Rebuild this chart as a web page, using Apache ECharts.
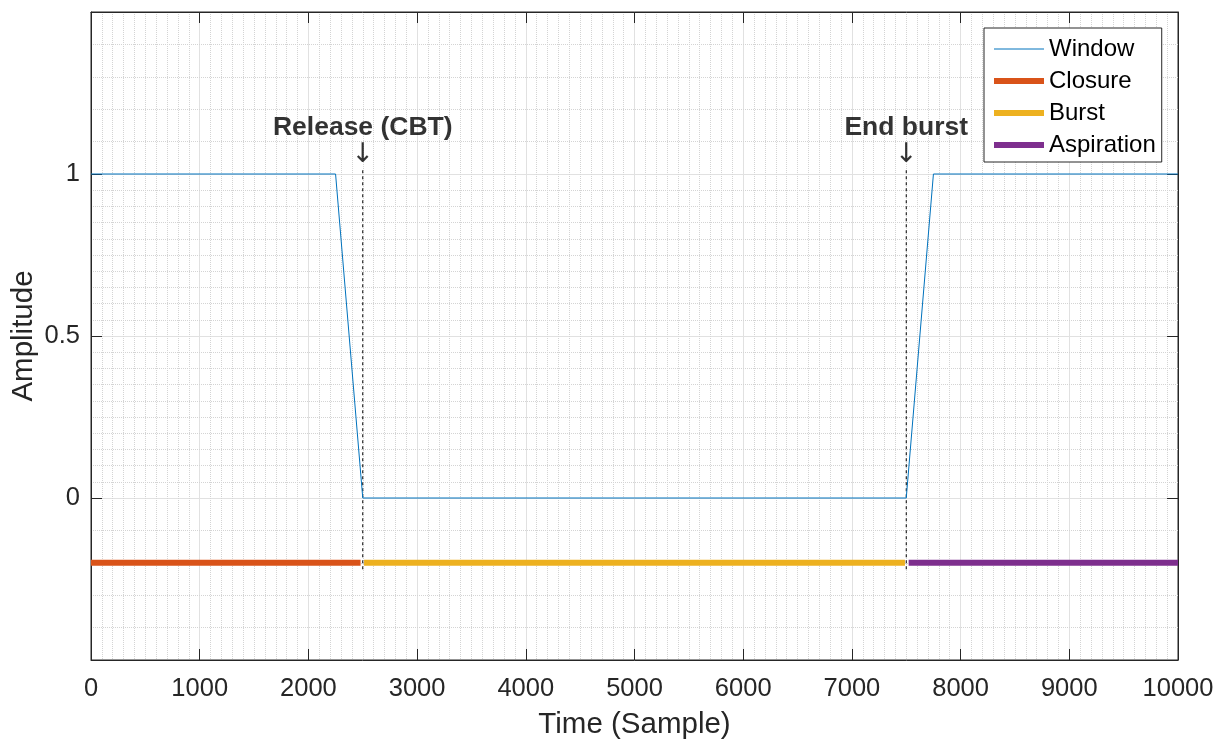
<!DOCTYPE html>
<html>
<head>
<meta charset="utf-8">
<script src="https://cdn.jsdelivr.net/npm/echarts@6/dist/echarts.min.js"></script>
<style>
html,body{margin:0;padding:0;background:#fff;}
#chart{width:1226px;height:739px;}
</style>
</head>
<body>
<div id="chart"></div>
<script>
// ---- data ----
var windowX = [0, 2250, 2500, 7500, 7750, 10000];
var windowY = [1, 1, 0, 0, 1, 1];
var segmentLevel = -0.2;
var closureSpan = [0, 2480];
var burstSpan = [2512, 7488];
var aspirationSpan = [7522, 10000];
var markerX = [2500, 7500];
var markerLabels = ['Release (CBT)', 'End burst'];
var markerLineY = [-0.22, 1.02];
var markerTextY = 1.142;
var markerArrowY = 1.059;
var yTickLabels = [0, 0.5, 1];
var yMinorGrid = [-0.4, -0.3, -0.2, -0.1,
  0.05, 0.1, 0.15, 0.2, 0.25, 0.3, 0.35, 0.4, 0.45,
  0.55, 0.6, 0.65, 0.7, 0.75, 0.8, 0.85, 0.9, 0.95,
  1.1, 1.2, 1.3, 1.4];

var FONT = '"Liberation Sans", Arial, sans-serif';
var AX = '#262626';

function seg(span){ return [[span[0], segmentLevel],[span[1], segmentLevel]]; }

var series = [
  {
    name: 'minorGrid', type: 'line', data: [], z: 1, silent: true,
    markLine: {
      silent: true, z: 0, symbol: ['none','none'], label: {show:false},
      lineStyle: {color:'#d4d4d4', type:'dotted', width:1},
      data: yMinorGrid.map(function(v){ return {yAxis: v}; }),
      animation: false
    }
  }
];
markerX.forEach(function(x, i){
  series.push({
    name: 'marker' + i, type: 'line', z: 3, showSymbol: false, symbol: 'none',
    data: [[x, markerLineY[0]], [x, markerLineY[1]]],
    lineStyle: {color: '#000', width: 1, type: [3, 3]}
  });
});
series.push(
  { name: 'Window', type: 'line', z: 5, symbol: 'none',
    data: windowX.map(function(x, i){ return [x, windowY[i]]; }),
    lineStyle: {color: '#0072BD', width: 1}, itemStyle: {color: '#0072BD'} },
  { name: 'Closure', type: 'line', z: 4, symbol: 'none', data: seg(closureSpan),
    lineStyle: {color: '#D95319', width: 6}, itemStyle: {color: '#D95319'} },
  { name: 'Burst', type: 'line', z: 4, symbol: 'none', data: seg(burstSpan),
    lineStyle: {color: '#EDB120', width: 6}, itemStyle: {color: '#EDB120'} },
  { name: 'Aspiration', type: 'line', z: 4, symbol: 'none', data: seg(aspirationSpan),
    lineStyle: {color: '#7E2F8E', width: 6}, itemStyle: {color: '#7E2F8E'} },
  { name: 'annotText', type: 'scatter', z: 6, symbolSize: 1, silent: true,
    itemStyle: {color: 'rgba(0,0,0,0)'},
    data: markerX.map(function(x, i){
      return {value: [x, markerTextY], label: {show: true, formatter: markerLabels[i]}};
    }),
    label: {show: true, position: 'inside', align: 'center', verticalAlign: 'middle',
      fontFamily: FONT, fontWeight: 'bold', fontSize: 26.5, color: '#000',
      textBorderWidth: 0, textBorderColor: 'transparent'} },
  { name: 'annotArrow', type: 'scatter', z: 6, symbolSize: 1, silent: true,
    itemStyle: {color: 'rgba(0,0,0,0)'},
    data: markerX.map(function(x){ return [x, markerArrowY]; }),
    label: {show: true, position: 'inside', formatter: '\u2193', align: 'center', verticalAlign: 'middle',
      fontFamily: '"DejaVu Sans", sans-serif', fontSize: 27, color: '#000',
      textBorderWidth: 0, textBorderColor: 'transparent'} }
);

var legendNames = ['Window', 'Closure', 'Burst', 'Aspiration'];
var legendWidths = [1, 6, 6, 6];

var chart = echarts.init(document.getElementById('chart'), null, {renderer: 'canvas'});
chart.setOption({
  animation: false,
  backgroundColor: '#fff',
  grid: {left: 91, right: 48, top: 12, bottom: 79, show: true, borderColor: AX, borderWidth: 1,
    containLabel: false, outerBoundsMode: 'none'},
  legend: {
    data: legendNames.map(function(n, i){ return {name: n, lineStyle: {width: legendWidths[i]}}; }),
    orient: 'vertical', left: 984, top: 28,
    padding: [9, 6, 5, 7], itemGap: 8, itemWidth: 50, itemHeight: 14,
    backgroundColor: '#fff', borderColor: AX, borderWidth: 1, borderRadius: 0,
    itemStyle: {color: 'rgba(0,0,0,0)', borderColor: 'rgba(0,0,0,0)', borderWidth: 0, opacity: 0},
    textStyle: {fontFamily: FONT, fontSize: 24, color: '#000'},
    selectedMode: false
  },
  xAxis: [
    { type: 'value', min: 0, max: 10000, interval: 1000, position: 'bottom',
      name: 'Time (Sample)', nameLocation: 'middle', nameGap: 50,
      nameTextStyle: {fontFamily: FONT, fontSize: 29.5, color: AX},
      axisLine: {show: true, onZero: false, lineStyle: {color: AX, width: 1}},
      axisTick: {show: true, inside: true, length: 11, lineStyle: {color: AX}},
      axisLabel: {fontFamily: FONT, fontSize: 25.5, color: AX, margin: 16,
        formatter: function(v){ return String(v); }},
      splitLine: {show: true, lineStyle: {color: '#e1e1e1', width: 1}},
      minorTick: {show: false, splitNumber: 10},
      minorSplitLine: {show: true, lineStyle: {color: '#d4d4d4', type: 'dotted', width: 1}} },
    { type: 'value', min: 0, max: 10000, interval: 1000, position: 'top',
      axisLine: {show: true, onZero: false, lineStyle: {color: AX, width: 1}},
      axisTick: {show: true, inside: true, length: 11, lineStyle: {color: AX}},
      axisLabel: {show: false}, splitLine: {show: false} }
  ],
  yAxis: [
    { type: 'value', min: -0.5, max: 1.5, interval: 0.5, position: 'left',
      name: 'Amplitude', nameLocation: 'middle', nameGap: 52, nameMoveOverlap: false,
      nameTextStyle: {fontFamily: FONT, fontSize: 29.5, color: AX},
      axisLine: {show: true, onZero: false, lineStyle: {color: AX, width: 1}},
      axisTick: {show: true, inside: true, length: 11, lineStyle: {color: AX}},
      axisLabel: {fontFamily: FONT, fontSize: 25.5, color: AX, margin: 11,
        formatter: function(v){ return yTickLabels.some(function(t){ return Math.abs(t - v) < 1e-9; }) ? String(v) : ''; }},
      splitLine: {show: true, lineStyle: {color: '#e1e1e1', width: 1}} },
    { type: 'value', min: -0.5, max: 1.5, interval: 0.5, position: 'right',
      axisLine: {show: true, onZero: false, lineStyle: {color: AX, width: 1}},
      axisTick: {show: true, inside: true, length: 11, lineStyle: {color: AX}},
      axisLabel: {show: false}, splitLine: {show: false} }
  ],
  series: series
});
</script>
</body>
</html>
